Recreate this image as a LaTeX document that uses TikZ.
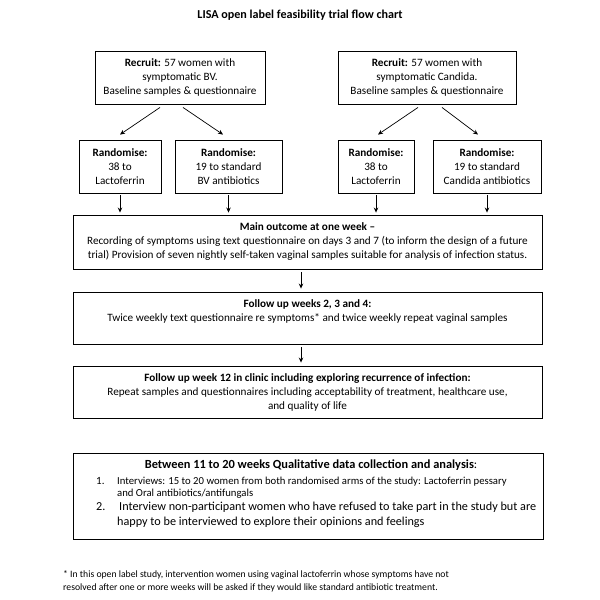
\documentclass[tikz,border=0pt]{standalone}
\usepackage{fontspec}
\setmainfont{Carlito}
\usetikzlibrary{arrows.meta}
\begin{document}
\begin{tikzpicture}[x=1pt,y=-1pt,
  box/.style={draw,line width=0.9pt,align=center,inner sep=0pt,font=\fontsize{11.2}{14}\selectfont},
  arr/.style={-{Stealth[length=5pt,width=4.5pt]},line width=0.7pt},
  ln/.style={anchor=base west,inner sep=0pt}]
\useasboundingbox (0,0) rectangle (600,600);
\fill[white] (0,0) rectangle (600,600);
\node[font=\bfseries\fontsize{12.1}{14}\selectfont] (title) at (300,15) {LISA open label feasibility trial flow chart};

\node[box,minimum width=170pt,minimum height=53pt] (recA) at (180,77.5) {\textbf{Recruit:} 57 women with\\symptomatic BV.\\Baseline samples \& questionnaire};
\node[box,minimum width=178pt,minimum height=53pt] (recB) at (427,77.5) {\textbf{Recruit:} 57 women with\\symptomatic Candida.\\Baseline samples \& questionnaire};

\node[box,minimum width=82pt,minimum height=53pt] (randA) at (120,166.5) {\textbf{Randomise:}\\38 to\\Lactoferrin};
\node[box,minimum width=107pt,minimum height=53pt] (randB) at (228.5,166.5) {\textbf{Randomise:}\\19 to standard\\BV antibiotics};
\node[box,minimum width=76pt,minimum height=53pt] (randC) at (376,166.5) {\textbf{Randomise:}\\38 to\\Lactoferrin};
\node[box,minimum width=108pt,minimum height=53pt] (randD) at (487,166.5) {\textbf{Randomise:}\\19 to standard\\Candida antibiotics};

\node[box,minimum width=469pt,minimum height=54pt] (main) at (307.5,242) {\textbf{Main outcome at one week --}\\Recording of symptoms using text questionnaire on days 3 and 7 (to inform the design of a future\\trial) Provision of seven nightly self-taken vaginal samples suitable for analysis of infection status.};
\node[box,minimum width=469pt,minimum height=52pt] (follow) at (307.5,318) {\textbf{Follow up weeks 2, 3 and 4:}\\Twice weekly text questionnaire re symptoms* and twice weekly repeat vaginal samples\\\mbox{}};
\node[box,minimum width=469pt,minimum height=52pt] (wk) at (307.5,392) {\textbf{Follow up week 12 in clinic including exploring recurrence of infection:}\\Repeat samples and questionnaires including acceptability of treatment, healthcare use,\\and quality of life};

\node[box,minimum width=470pt,minimum height=86pt] (qbox) at (308,496) {};
\node[anchor=base,inner sep=0pt,font=\fontsize{12.4}{14}\selectfont] (qhead) at (311,468.5) {\textbf{Between 11 to 20 weeks Qualitative data collection and analysis}:};
\node[ln,font=\fontsize{11}{12}\selectfont] (n1) at (96,484) {1.};
\node[ln,font=\fontsize{10.7}{12}\selectfont] (i1a) at (117,484) {Interviews: 15 to 20 women from both randomised arms of the study: Lactoferrin pessary};
\node[ln,font=\fontsize{10.7}{12}\selectfont] (i1b) at (117,496) {and Oral antibiotics/antifungals};
\node[ln,font=\fontsize{12.2}{14}\selectfont] (n2) at (96,510.5) {2.};
\node[ln,font=\fontsize{12.2}{14}\selectfont] (i2a) at (119,510.5) {Interview non-participant women who have refused to take part in the study but are};
\node[ln,font=\fontsize{12.2}{14}\selectfont] (i2b) at (117,525.5) {happy to be interviewed to explore their opinions and feelings};

\node[ln,font=\fontsize{9.7}{12}\selectfont] (fn1) at (63,577) {* In this open label study, intervention women using vaginal lactoferrin whose symptoms have not};
\node[ln,font=\fontsize{9.7}{12}\selectfont] (fn2) at (63,590) {resolved after one or more weeks will be asked if they would like standard antibiotic treatment.};

\draw[arr] ([xshift=-20pt,yshift=-3pt]recA.south) -- ([yshift=5pt]randA.north);
\draw[arr] ([xshift=3pt,yshift=-3pt]recA.south) -- ([xshift=-5.5pt,yshift=5pt]randB.north);
\draw[arr] ([xshift=-9pt,yshift=-3pt]recB.south) -- ([xshift=2pt,yshift=5pt]randC.north);
\draw[arr] ([xshift=15pt,yshift=-3pt]recB.south) -- ([xshift=-9pt,yshift=5pt]randD.north);

\foreach \r in {randA,randB,randC,randD}
  \draw[arr] ([yshift=-2pt]\r.south) -- ([yshift=2pt]\r.south |- main.north);
\draw[arr] ([xshift=-6.5pt,yshift=-3pt]main.south) -- ([xshift=-6.5pt,yshift=3pt]follow.north);
\draw[arr] ([xshift=-6.5pt,yshift=-3pt]follow.south) -- ([xshift=-6.5pt,yshift=3pt]wk.north);
\end{tikzpicture}
\end{document}
